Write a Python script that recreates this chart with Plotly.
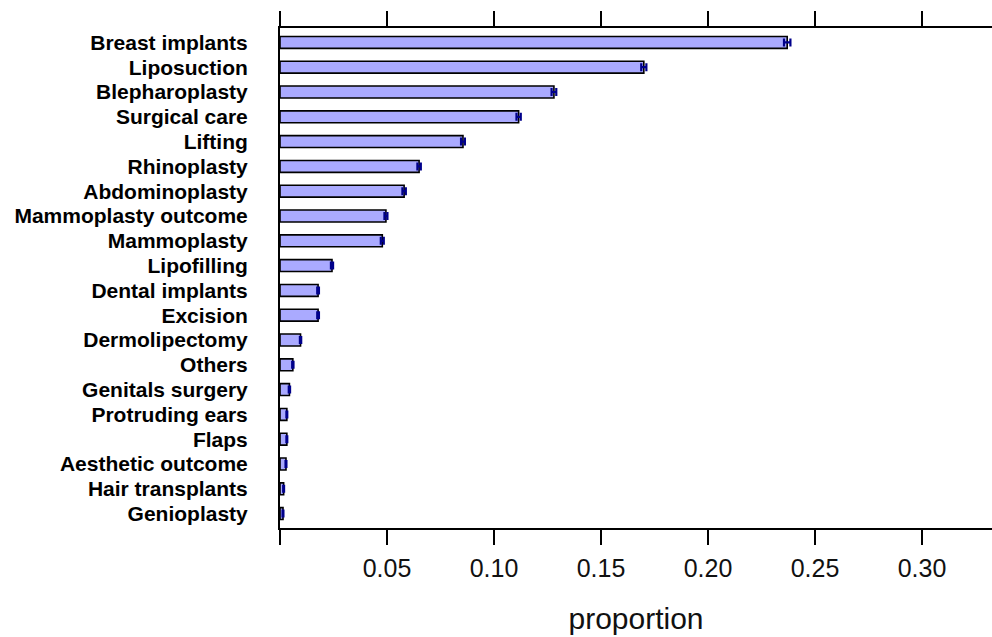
import plotly.graph_objects as go

# Procedure categories, ordered from most to least frequent
categories = [
    "Breast implants", "Liposuction", "Blepharoplasty", "Surgical care", "Lifting",
    "Rhinoplasty", "Abdominoplasty", "Mammoplasty outcome", "Mammoplasty", "Lipofilling",
    "Dental implants", "Excision", "Dermolipectomy", "Others", "Genitals surgery",
    "Protruding ears", "Flaps", "Aesthetic outcome", "Hair transplants", "Genioplasty",
]
proportion = [
    0.237, 0.170, 0.128, 0.1115, 0.0855,
    0.065, 0.058, 0.0495, 0.0478, 0.0243,
    0.0178, 0.0178, 0.0096, 0.0060, 0.0044,
    0.0032, 0.0032, 0.0028, 0.0017, 0.0014,
]
std_error = [
    0.0015, 0.0012, 0.0011, 0.0010, 0.0009,
    0.0008, 0.0008, 0.0007, 0.0007, 0.0005,
    0.0004, 0.0004, 0.0003, 0.0003, 0.0003,
    0.0002, 0.0002, 0.0002, 0.0002, 0.0002,
]
tick_values = [0, 0.05, 0.10, 0.15, 0.20, 0.25, 0.30]
tick_labels = ["", "0.05", "0.10", "0.15", "0.20", "0.25", "0.30"]

fig = go.Figure(
    go.Bar(
        x=proportion,
        y=categories,
        orientation="h",
        width=0.48,
        marker=dict(color="#aaaaff", line=dict(color="black", width=1.6)),
        error_x=dict(type="data", array=std_error, color="#00008b", thickness=2.2, width=4),
    )
)

fig.update_layout(
    width=992,
    height=637,
    margin=dict(l=280, r=0, t=28, b=109),
    plot_bgcolor="white",
    paper_bgcolor="white",
    showlegend=False,
    font=dict(family="Liberation Sans, Arial, sans-serif", color="black"),
)

fig.update_xaxes(
    range=[0, 0.3327],
    tickvals=tick_values,
    ticktext=tick_labels,
    ticks="outside",
    ticklen=15,
    tickwidth=1.6,
    tickcolor="black",
    showline=True,
    linecolor="black",
    linewidth=2,
    mirror="ticks",
    showgrid=False,
    zeroline=False,
    tickfont=dict(size=25, color="#111111"),
    ticklabelstandoff=2,
    title=dict(text="proportion", font=dict(size=30, color="#111111"), standoff=27),
)

fig.update_yaxes(
    categoryorder="array",
    categoryarray=categories,
    range=[19.58, -0.58],
    tickmode="array",
    tickvals=categories,
    ticktext=categories,
    showline=True,
    linecolor="black",
    linewidth=2,
    ticks="",
    showgrid=False,
    zeroline=False,
    tickfont=dict(size=21, color="black", weight="bold"),
    ticklabelstandoff=26,
)

fig.write_html("out.html")
